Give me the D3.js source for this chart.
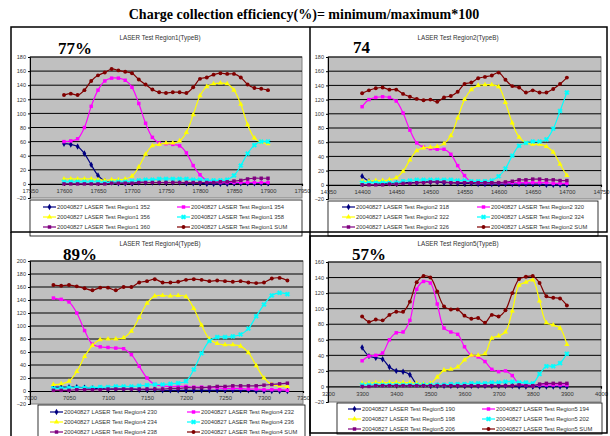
<!DOCTYPE html>
<html>
<head>
<meta charset="utf-8">
<script src="https://cdn.jsdelivr.net/npm/d3@7"></script>
<style>
  body { margin: 0; background: #fff; }
  svg { display: block; font-family: "Liberation Sans", Arial, sans-serif; }
</style>
</head>
<body>
<div id="chart"></div>
<script>
const pageTitle = "Charge collection efficiency(%)= minimum/maximum*100";

// ---- Region1 ----
const r1Title = "LASER Test Region1(TypeB)";
const r1Label = "77%";
const r1Names = ["20040827 LASER Test Region1 352", "20040827 LASER Test Region1 354", "20040827 LASER Test Region1 356",
                 "20040827 LASER Test Region1 358", "20040827 LASER Test Region1 360", "20040827 LASER Test Region1 SUM"];
const r1X = [17600,17610,17620,17630,17640,17650,17660,17670,17680,17690,17700,17710,17720,17730,17740,17750,
             17760,17770,17780,17790,17800,17810,17820,17830,17840,17850,17860,17870,17880,17890,17900];
const r1S352 = [57,56,53,43,27,12,4,2,1,1,1,2,2,2,2,2,2,2,1,1,1,0,0,0,0,1,1,1,1,1,1];
const r1S354 = [60,61,64,80,110,133,146,150,150,147,137,114,86,66,58,57,56,54,44,26,13,5,3,2,2,2,2,2,2,2,2];
const r1S356 = [7,7,7,7,7,6,5,6,6,7,11,24,42,54,56,58,58,61,73,98,125,138,142,143,142,133,113,84,65,59,57];
const r1S358 = [3,3,3,3,3,3,2,2,3,3,4,5,6,6,7,7,7,7,7,6,6,5,5,5,6,12,26,43,55,60,60];
const r1S360 = [0,0,0,0,0,0,0,1,1,1,1,2,2,2,2,2,2,2,2,2,2,2,2,3,3,4,5,7,8,8,8];
const r1Sum  = [126,128,126,133,146,154,158,163,161,159,157,148,141,134,130,129,130,130,129,137,149,151,155,157,156,156,151,141,136,135,133];
const r1XTicks = [17550,17600,17650,17700,17750,17800,17850,17900,17950];
const r1YTicks = [-20,0,20,40,60,80,100,120,140,160,180];

// ---- Region2 ----
const r2Title = "LASER Test Region2(TypeB)";
const r2Label = "74";
const r2Names = ["20040827 LASER Test Region2 318", "20040827 LASER Test Region2 320", "20040827 LASER Test Region2 322",
                 "20040827 LASER Test Region2 324", "20040827 LASER Test Region2 326", "20040827 LASER Test Region2 SUM"];
const r2X = [14400,14410,14420,14430,14440,14450,14460,14470,14480,14490,14500,14510,14520,14530,14540,14550,
             14560,14570,14580,14590,14600,14610,14620,14630,14640,14650,14660,14670,14680,14690,14700];
const r2S318 = [12,5,3,2,2,2,3,3,3,4,4,4,3,3,2,2,2,1,1,1,1,1,1,1,1,1,1,0,0,0,0];
const r2S320 = [110,120,123,124,123,118,101,77,59,53,51,50,50,43,27,13,4,3,3,3,3,3,3,3,3,3,3,3,2,2,2];
const r2S322 = [5,5,6,6,7,10,19,35,48,52,53,54,58,69,94,120,134,140,141,141,138,116,87,67,59,57,57,54,46,29,13];
const r2S324 = [3,3,3,3,3,3,5,6,7,7,7,7,7,7,6,6,5,5,5,6,12,23,41,55,59,61,61,64,79,104,130];
const r2S326 = [0,0,0,0,1,1,2,2,3,3,4,4,4,3,3,3,3,3,3,3,3,4,5,7,7,8,8,7,7,6,6];
const r2Sum  = [129,133,136,137,134,134,128,124,121,119,120,117,123,125,131,142,144,150,152,154,158,148,139,137,130,133,130,130,135,142,151];
const r2XTicks = [14350,14400,14450,14500,14550,14600,14650,14700,14750];
const r2YTicks = [-20,0,20,40,60,80,100,120,140,160,180];

// ---- Region4 ----
const r4Title = "LASER Test Region4(TypeB)";
const r4Label = "89%";
const r4Names = ["20040827 LASER Test Region4 230", "20040827 LASER Test Region4 232", "20040827 LASER Test Region4 234",
                 "20040827 LASER Test Region4 236", "20040827 LASER Test Region4 238", "20040827 LASER Test Region4 SUM"];
const r4X = [7030,7040,7050,7060,7070,7080,7090,7100,7110,7120,7130,7140,7150,7160,7170,7180,
             7190,7200,7210,7220,7230,7240,7250,7260,7270,7280,7290,7300,7310,7320,7330];
const r4S230 = [6,6,6,6,5,4,4,3,3,3,3,2,2,2,1,1,1,1,1,1,1,1,1,1,1,1,0,0,0,0,0];
const r4S232 = [143,141,137,120,93,72,68,67,66,65,56,38,20,10,8,7,7,7,6,6,5,5,4,4,4,3,3,2,2,2,1];
const r4S234 = [10,11,15,30,53,70,79,80,80,82,92,113,135,146,147,146,147,145,127,101,80,73,71,71,69,59,39,20,10,8,7];
const r4S236 = [4,4,5,5,5,5,6,6,7,7,7,8,9,10,10,11,12,15,33,58,77,83,83,84,87,96,115,133,147,151,149];
const r4S238 = [1,1,1,2,2,2,2,3,3,3,3,3,3,3,3,4,4,5,5,5,6,7,7,8,8,8,8,9,10,11,12];
const r4Sum  = [163,162,163,161,158,155,159,159,155,160,160,167,169,172,167,167,168,171,172,171,169,170,169,168,169,167,166,167,173,174,170];
const r4XTicks = [7000,7050,7100,7150,7200,7250,7300,7350];
const r4YTicks = [-20,0,20,40,60,80,100,120,140,160,180,200];

// ---- Region5 ----
const r5Title = "LASER Test Region5(TypeB)";
const r5Label = "57%";
const r5Names = ["20040827 LASER Test Region5 190", "20040827 LASER Test Region5 194", "20040827 LASER Test Region5 198",
                 "20040827 LASER Test Region5 202", "20040827 LASER Test Region5 206", "20040827 LASER Test Region5 SUM"];
const r5X = [3300,3320,3340,3360,3380,3400,3420,3440,3460,3480,3500,3520,3540,3560,3580,3600,
             3620,3640,3660,3680,3700,3720,3740,3760,3780,3800,3820,3840,3860,3880,3900];
const r5S190 = [50,39,37,35,25,20,19,15,3,2,1,1,1,1,1,1,1,1,1,1,1,1,1,0,0,0,0,0,0,0,0];
const r5S194 = [33,39,40,43,60,69,70,85,125,135,133,106,75,70,67,51,40,38,32,22,19,20,14,3,2,1,2,2,2,2,2];
const r5S198 = [4,4,5,5,5,5,5,5,4,3,4,12,21,22,25,34,40,40,42,62,65,70,97,130,134,137,110,82,79,75,54];
const r5S202 = [2,2,2,2,2,2,2,2,2,2,2,2,2,3,3,3,4,4,4,5,5,6,6,5,5,4,16,26,26,30,42];
const r5S206 = [0,0,1,1,1,1,1,1,1,1,1,1,1,1,1,1,1,1,1,1,1,1,1,2,1,1,3,4,4,4,4];
const r5Sum  = [90,83,86,85,92,96,96,109,134,142,140,122,103,99,99,91,87,88,82,92,90,98,120,138,141,142,133,116,114,113,104];
const r5XTicks = [3200,3300,3400,3500,3600,3700,3800,3900,4000];
const r5YTicks = [-20,0,20,40,60,80,100,120,140,160];

// series look, same order in every chart
const seriesColors = ["#000080", "#ff00ff", "#ffff00", "#00ffff", "#800080", "#800000"];
const seriesShapes = [d3.symbolDiamond, d3.symbolSquare, d3.symbolTriangle, d3.symbolCross, d3.symbolSquare, d3.symbolCircle];
const symSize = i => (i === 3 ? 13 : 12);

const W = 610, H = 436;
const svg = d3.select("#chart").append("svg").attr("width", W).attr("height", H);

svg.append("text")
  .attr("x", 304).attr("y", 19)
  .attr("text-anchor", "middle")
  .style("font-family", "'Liberation Serif', 'Times New Roman', serif")
  .style("font-weight", "bold")
  .style("font-size", "14px")
  .text(pageTitle);

const panels = [
  { title: r1Title, label: r1Label, names: r1Names, x: r1X, series: [r1S352, r1S354, r1S356, r1S358, r1S360, r1Sum],
    xTicks: r1XTicks, yTicks: r1YTicks,
    plot: [30, 57, 302, 198], titleX: 160, titleY: 40, labelX: 58, labelY: 54,
    legend: [30, 200, 302, 236], col: [43, 177], rowY: 207 },
  { title: r2Title, label: r2Label, names: r2Names, x: r2X, series: [r2S318, r2S320, r2S322, r2S324, r2S326, r2Sum],
    xTicks: r2XTicks, yTicks: r2YTicks,
    plot: [328, 57, 601, 199], titleX: 458, titleY: 40, labelX: 353, labelY: 53,
    legend: [328, 201, 598, 236], col: [342, 477], rowY: 207 },
  { title: r4Title, label: r4Label, names: r4Names, x: r4X, series: [r4S230, r4S232, r4S234, r4S236, r4S238, r4Sum],
    xTicks: r4XTicks, yTicks: r4YTicks,
    plot: [30, 261, 303, 404], titleX: 160, titleY: 246, labelX: 63, labelY: 260,
    legend: [38, 405, 305, 440], col: [50, 187], rowY: 412 },
  { title: r5Title, label: r5Label, names: r5Names, x: r5X, series: [r5S190, r5S194, r5S198, r5S202, r5S206, r5Sum],
    xTicks: r5XTicks, yTicks: r5YTicks,
    plot: [328, 262, 601, 402], titleX: 458, titleY: 246, labelX: 352, labelY: 260,
    legend: [337, 403, 602, 434], col: [348, 482], rowY: 409 }
];

panels.forEach(p => {
  const [x0, y0, x1, y1] = p.plot;
  const xs = d3.scaleLinear().domain(d3.extent(p.xTicks)).range([x0, x1]);
  const ys = d3.scaleLinear().domain(d3.extent(p.yTicks)).range([y1, y0]);
  const g = svg.append("g");

  g.append("text")
    .attr("x", p.titleX).attr("y", p.titleY)
    .attr("text-anchor", "middle")
    .style("font-size", "6.3px").style("fill", "#333")
    .text(p.title);

  g.append("text")
    .attr("x", p.labelX).attr("y", p.labelY)
    .style("font-family", "'Liberation Serif', 'Times New Roman', serif")
    .style("font-weight", "bold").style("font-size", "17px")
    .text(p.label);

  // plot area
  g.append("rect")
    .attr("x", x0).attr("y", y0).attr("width", x1 - x0).attr("height", y1 - y0)
    .style("fill", "#c0c0c0").style("stroke", "#808080").style("stroke-width", 1);

  // major gridlines
  g.selectAll(".grid")
    .data(p.yTicks.filter(v => v > 0))
    .enter().append("line")
    .attr("x1", x0).attr("x2", x1)
    .attr("y1", d => ys(d)).attr("y2", d => ys(d))
    .style("stroke", "#000").style("stroke-width", 1);

  // y axis
  const yAxis = g.append("g")
    .attr("transform", "translate(" + x0 + ",0)")
    .call(d3.axisLeft(ys).tickValues(p.yTicks).tickSize(2).tickPadding(2));
  yAxis.select(".domain").style("stroke", "#000");
  yAxis.selectAll("text").style("font-size", "5.5px").style("fill", "#333").style("font-family", "'Liberation Sans', Arial, sans-serif");

  // x axis sits on zero
  const xAxis = g.append("g")
    .attr("transform", "translate(0," + ys(0) + ")")
    .call(d3.axisBottom(xs).tickValues(p.xTicks).tickSize(2).tickPadding(3).tickFormat(d3.format("d")));
  xAxis.select(".domain").style("stroke", "#000").style("stroke-width", 1.2);
  xAxis.selectAll("text").style("font-size", "5.8px").style("fill", "#333").style("font-family", "'Liberation Sans', Arial, sans-serif");

  const line = d3.line()
    .x((d, i) => xs(p.x[i]))
    .y(d => ys(d))
    .curve(d3.curveCatmullRom.alpha(0.5));

  p.series.forEach((vals, si) => {
    g.append("path")
      .datum(vals)
      .attr("d", line)
      .style("fill", "none")
      .style("stroke", seriesColors[si])
      .style("stroke-width", 1.2);

    const sym = d3.symbol().type(seriesShapes[si]).size(symSize(si));
    g.selectAll(".m" + si)
      .data(vals)
      .enter().append("path")
      .attr("transform", (d, i) => "translate(" + xs(p.x[i]) + "," + ys(d) + ")" + (si === 3 ? " rotate(45)" : ""))
      .attr("d", sym)
      .style("fill", seriesColors[si])
      .style("stroke", si === 3 ? seriesColors[si] : "none")
      .style("stroke-width", 0.5);
  });

  // legend
  const [lx0, ly0, lx1, ly1] = p.legend;
  g.append("rect")
    .attr("x", lx0).attr("y", ly0).attr("width", lx1 - lx0).attr("height", ly1 - ly0)
    .style("fill", "#fff").style("stroke", "#000").style("stroke-width", 0.8);

  const items = g.selectAll(".leg")
    .data(p.names)
    .enter().append("g")
    .attr("transform", (d, i) => "translate(" + p.col[i % 2] + "," + (p.rowY + Math.floor(i / 2) * 10) + ")");
  items.append("line")
    .attr("x1", 0).attr("x2", 13)
    .style("stroke", (d, i) => seriesColors[i]).style("stroke-width", 1.2);
  items.append("path")
    .attr("transform", (d, i) => "translate(6.5,0)" + (i === 3 ? " rotate(45)" : ""))
    .attr("d", (d, i) => d3.symbol().type(seriesShapes[i]).size(symSize(i))())
    .style("fill", (d, i) => seriesColors[i])
    .style("stroke", (d, i) => i === 3 ? seriesColors[i] : "none")
    .style("stroke-width", 0.5);
  items.append("text")
    .attr("x", 14).attr("y", 2.1)
    .style("font-size", "5.8px").style("fill", "#333")
    .text(d => d);
});

// table frame
const frame = svg.append("g").style("stroke", "#000").style("stroke-width", 1.5).style("fill", "none");
frame.append("rect").attr("x", 11).attr("y", 27).attr("width", 596).attr("height", 205);
frame.append("line").attr("x1", 310).attr("x2", 310).attr("y1", 27).attr("y2", 436);
frame.append("line").attr("x1", 11).attr("x2", 11).attr("y1", 232).attr("y2", 436);
frame.append("rect").attr("x", 310).attr("y", 236).attr("width", 297).attr("height", 197);
</script>
</body>
</html>
